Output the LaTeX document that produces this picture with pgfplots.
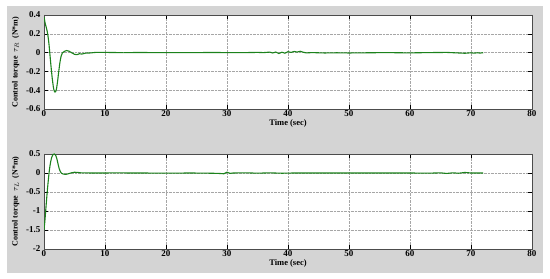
\documentclass[border=0pt]{standalone}
\usepackage{pgfplots}
\pgfplotsset{compat=1.18}
\usepackage{fontspec}
\setmainfont{Liberation Serif}
\definecolor{panelgray}{RGB}{212,212,212}
\definecolor{mgreen}{RGB}{28,130,28}

\pgfplotsset{
  panel/.style={
    scale only axis, width=488pt,
    xmin=0, xmax=80, xtick={0,10,...,80},
    enlargelimits=false,
    grid=major, grid style={densely dotted, black!35},
    axis background/.style={fill=white},
    tick align=inside, tick style={black, thin},
    axis line style={black!70},
    tick label style={font=\fontsize{9}{10}\selectfont\bfseries},
    /pgf/number format/assume math mode=true,
    xlabel={Time (sec)},
    xlabel style={font=\fontsize{8.5}{9}\selectfont\bfseries, yshift=4pt},
    ylabel style={font=\fontsize{8}{9}\selectfont\bfseries},
    xticklabel style={yshift=2pt},
  }
}

\begin{document}
\begin{tikzpicture}[x=1pt,y=1pt]
\useasboundingbox (0,0) rectangle (550,279);
\fill[white] (0,0) rectangle (550,279);
\fill[panelgray] (7,6) rectangle (543,273);

\begin{axis}[panel,
  at={(44pt,170pt)}, anchor=south west, height=94pt,
  ymin=-0.6, ymax=0.4, ytick={-0.6,-0.4,...,0.4},
  yticklabel style={/pgf/number format/fixed, /pgf/number format/precision=1},
  ylabel={Control torque\enspace $\tau_R$\enspace (N*m)},
]
\addplot[mgreen, line width=1.1pt, smooth] coordinates {
(0,0.38) (0.2,0.31) (0.4,0.26) (0.6,0.2) (0.8,0.1) (1.0,-0.04) (1.2,-0.18)
(1.4,-0.3) (1.6,-0.39) (1.8,-0.42) (2.0,-0.4) (2.2,-0.32) (2.4,-0.21)
(2.6,-0.11) (2.8,-0.04) (3.0,-0.005) (3.3,0.012) (3.7,0.022) (4.1,0.015)
(4.5,0.0) (5.0,-0.018) (5.4,-0.022) (5.8,-0.012) (6.2,-0.016) (6.8,-0.006)
(7.5,-0.004) (8.5,0.002) (9.5,0.003) (11,0.001) (13,0.0)};
\addplot[mgreen, line width=1.1pt] coordinates {
(13,0.0) (16,0.001) (20,-0.001) (24,0.0) (28,0.001) (32,-0.001) (35,0.002)
(36,0.0) (37,0.005) (37.5,-0.004) (38,0.006) (38.5,-0.01) (39,0.004)
(39.5,-0.006) (40,0.01) (40.5,0.002) (41,0.012) (41.5,0.006) (42,0.014)
(42.5,0.004) (43,-0.003) (44,0.0) (46,-0.004) (48,-0.002) (50,-0.004)
(53,-0.002) (56,0.0) (60,-0.003) (63,0.0) (66,0.002) (68,-0.004)
(69,-0.007) (70,-0.002) (70.5,-0.006) (71,-0.002) (71.5,-0.005) (72,-0.001)};
\end{axis}

\begin{axis}[panel,
  at={(44pt,30pt)}, anchor=south west, height=95pt,
  ymin=-2, ymax=0.5, ytick={-2,-1.5,...,0.5},
  ylabel={Control torque\enspace $\tau_L$\enspace (N*m)},
]
\addplot[mgreen, line width=1.1pt, smooth] coordinates {
(0,-1.5) (0.15,-1.25) (0.3,-0.95) (0.5,-0.55) (0.7,-0.2) (0.9,0.1)
(1.1,0.3) (1.3,0.43) (1.5,0.49) (1.7,0.5) (1.9,0.47) (2.1,0.38)
(2.3,0.24) (2.5,0.11) (2.7,0.03) (2.9,-0.01) (3.2,-0.03) (3.6,-0.035)
(4.0,-0.02) (4.5,0.005) (5.0,0.02) (5.5,0.015) (6.0,0.005) (7,0.002) (8,0.0)};
\addplot[mgreen, line width=1.1pt] coordinates {
(8,0.0) (12,0.002) (16,0.0) (20,-0.005) (24,0.0) (27,-0.005) (28.5,-0.01)
(29.5,-0.02) (30,0.02) (30.5,-0.01) (31,0.0) (33,0.005) (35,-0.005)
(37,0.004) (39,-0.006) (41,0.0) (45,0.0) (50,0.0) (55,0.0) (60,0.0)
(63,-0.005) (65,0.004) (66,-0.012) (67,0.004) (68,-0.006) (69,0.015)
(70,0.0) (72,0.0)};
\end{axis}
\end{tikzpicture}
\end{document}
